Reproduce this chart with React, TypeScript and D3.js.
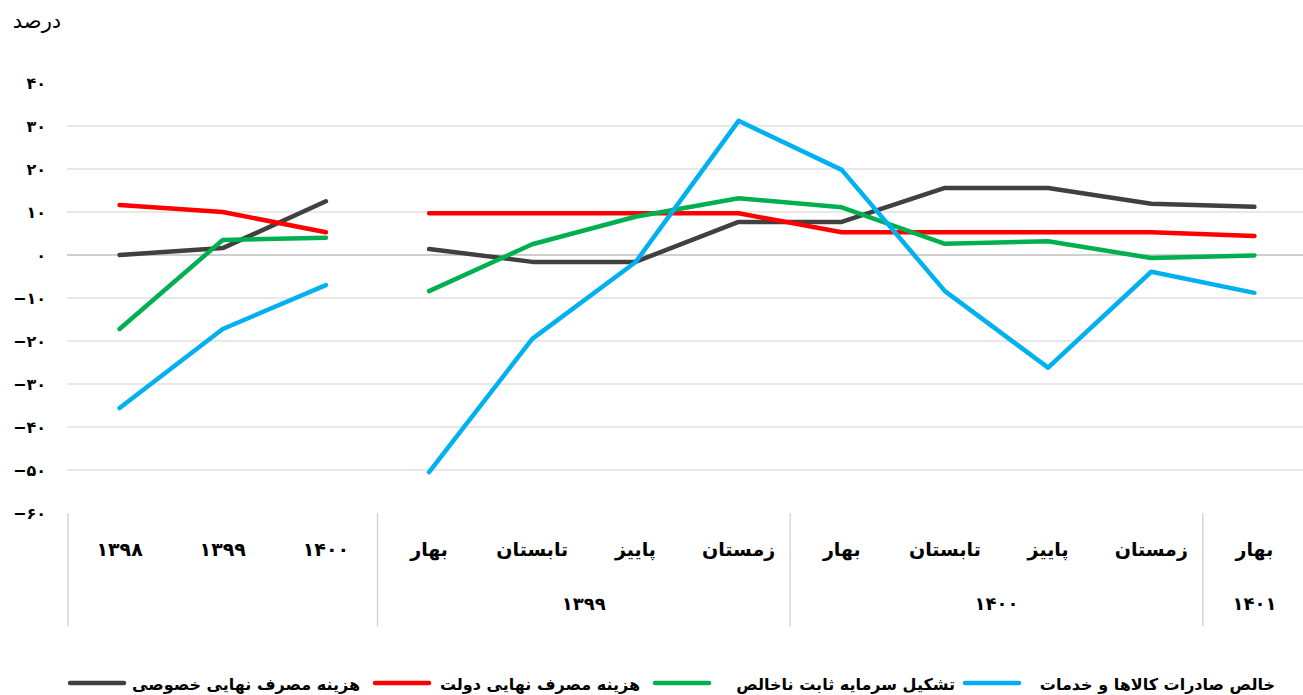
import React, { useEffect, useRef } from "react";
import * as d3 from "d3";

// category keys (left to right) and the labels printed under them
const categoryKeys = ["y1398", "y1399", "y1400", "q99-1", "q99-2", "q99-3", "q99-4", "q00-1", "q00-2", "q00-3", "q00-4", "q01-1"];
const categoryLabels = ["۱۳۹۸", "۱۳۹۹", "۱۴۰۰", "بهار", "تابستان", "پاییز", "زمستان", "بهار", "تابستان", "پاییز", "زمستان", "بهار"];
const yearGroups = [
  { label: "۱۳۹۹", from: 3, to: 6 },
  { label: "۱۴۰۰", from: 7, to: 10 },
  { label: "۱۴۰۱", from: 11, to: 11 },
];
// separators sit before these category indices
const separatorsBefore = [0, 3, 7, 11];

const yTicks = [40, 30, 20, 10, 0, -10, -20, -30, -40, -50, -60];

// series: first 3 values are annual, remaining 9 are quarterly
const privateConsumption = [0, 1.6, 12.5, 1.4, -1.6, -1.6, 7.7, 7.7, 15.6, 15.6, 11.9, 11.2];
const governmentConsumption = [11.6, 10, 5.3, 9.7, 9.7, 9.7, 9.7, 5.3, 5.3, 5.3, 5.3, 4.4];
const grossFixedCapital = [-17.2, 3.5, 4, -8.4, 2.5, 8.9, 13.2, 11.1, 2.6, 3.2, -0.7, -0.1];
const netExports = [-35.6, -17.2, -7, -50.5, -19.5, -1.7, 31.2, 19.8, -8.4, -26.2, -3.9, -8.8];

const seriesNames = ["هزینه مصرف نهایی خصوصی", "هزینه مصرف نهایی دولت", "تشکیل سرمایه ثابت ناخالص", "خالص صادرات کالاها و خدمات"];
const seriesColors = ["#404040", "#ff0000", "#00b050", "#00b0f0"];
const seriesValues = [privateConsumption, governmentConsumption, grossFixedCapital, netExports];

const W = 1303;
const H = 695;
const FONT = "'DejaVu Sans', 'Noto Sans', sans-serif";

const toFa = (n: number) => {
  const s = String(Math.abs(n)).replace(/[0-9]/g, (c) => "۰۱۲۳۴۵۶۷۸۹"[+c]);
  return n < 0 ? "−" + s : s;
};

const App: React.FC = () => {
  const svgRef = useRef<SVGSVGElement>(null);

  useEffect(() => {
    document.body.style.margin = "0";
    const svg = d3.select(svgRef.current);
    svg.selectAll("*").remove();

    const x = d3.scaleBand().domain(categoryKeys).range([68, 1306]);
    const y = d3.scaleLinear().domain([-60, 40]).range([513, 83]);
    const cx = (i: number) => (x(categoryKeys[i]) as number) + x.bandwidth() / 2;

    // gridlines (none at the top and bottom bounds)
    svg
      .append("g")
      .selectAll("line")
      .data(yTicks.filter((t) => t > -60 && t < 40))
      .join("line")
      .attr("x1", 67)
      .attr("x2", W)
      .attr("y1", (d) => y(d))
      .attr("y2", (d) => y(d))
      .attr("stroke", (d) => (d === 0 ? "#bfbfbf" : "#e0e0e0"))
      .attr("stroke-width", 1.3);

    // y tick labels
    svg
      .append("g")
      .selectAll("text")
      .data(yTicks)
      .join("text")
      .attr("x", 46)
      .attr("y", (d) => y(d))
      .attr("dy", "0.35em")
      .attr("text-anchor", "end")
      .attr("font-family", FONT)
      .attr("font-weight", "bold")
      .attr("font-size", 16)
      .attr("fill", "#000")
      .text((d) => toFa(d));

    svg
      .append("text")
      .attr("x", 37)
      .attr("y", 28)
      .attr("text-anchor", "middle")
      .attr("font-family", FONT)
      .attr("font-size", 21)
      .text("درصد");

    // category separators
    svg
      .append("g")
      .selectAll("line")
      .data(separatorsBefore)
      .join("line")
      .attr("x1", (i) => x(categoryKeys[i]) as number)
      .attr("x2", (i) => x(categoryKeys[i]) as number)
      .attr("y1", 513)
      .attr("y2", 626)
      .attr("stroke", "#d0d0d0")
      .attr("stroke-width", 1.3);

    // category labels
    svg
      .append("g")
      .selectAll("text")
      .data(categoryLabels)
      .join("text")
      .attr("x", (_, i) => cx(i))
      .attr("y", 556)
      .attr("text-anchor", "middle")
      .attr("font-family", FONT)
      .attr("font-weight", "bold")
      .attr("font-size", 19)
      .text((d) => d);

    svg
      .append("g")
      .selectAll("text")
      .data(yearGroups)
      .join("text")
      .attr("x", (g) => (cx(g.from) + cx(g.to)) / 2)
      .attr("y", 610)
      .attr("text-anchor", "middle")
      .attr("font-family", FONT)
      .attr("font-weight", "bold")
      .attr("font-size", 18)
      .text((g) => g.label);

    // lines: annual segment and quarterly segment drawn separately
    const line = d3
      .line<[number, number]>()
      .x((d) => cx(d[0]))
      .y((d) => y(d[1]));

    seriesValues.forEach((vals, s) => {
      const pts: [number, number][] = vals.map((v, i) => [i, v]);
      [pts.slice(0, 3), pts.slice(3)].forEach((seg) => {
        svg
          .append("path")
          .attr("d", line(seg))
          .attr("fill", "none")
          .attr("stroke", seriesColors[s])
          .attr("stroke-width", 4.5)
          .attr("stroke-linejoin", "round")
          .attr("stroke-linecap", "round");
      });
    });

    // legend: swatch on the left, text ending at a fixed right edge
    const legendSwatchX = [70, 375, 655, 965];
    const legendRight = [360, 640, 955, 1275];
    const lg = svg.append("g");
    seriesNames.forEach((name, s) => {
      lg.append("line")
        .attr("x1", legendSwatchX[s])
        .attr("x2", legendSwatchX[s] + 54)
        .attr("y1", 683)
        .attr("y2", 683)
        .attr("stroke", seriesColors[s])
        .attr("stroke-width", 4.5)
        .attr("stroke-linecap", "round");
      lg.append("text")
        .attr("x", legendRight[s])
        .attr("y", 690)
        .attr("text-anchor", "end")
        .attr("font-family", FONT)
        .attr("font-weight", "bold")
        .attr("font-size", 16)
        .attr("textLength", null)
        .text(name);
    });
  }, []);

  return <svg ref={svgRef} width={W} height={H} style={{ display: "block", background: "#fff" }} />;
};

export default App;
